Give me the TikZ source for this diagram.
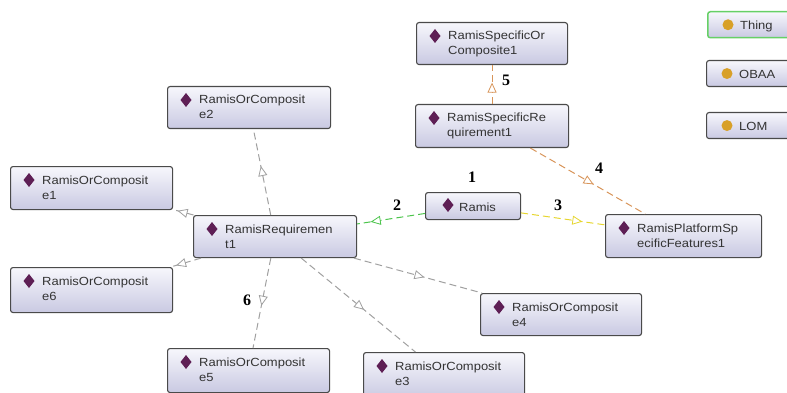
\documentclass[tikz,border=0pt]{standalone}
\usepackage{fontspec}
\setmainfont{Liberation Sans}
\newfontfamily\ogfont[FakeStretch=1.1]{Liberation Sans}
\newfontfamily\numfont{Liberation Serif}
\usetikzlibrary{arrows.meta,decorations.markings,calc}
\definecolor{boxtop}{HTML}{F7F7FC}
\definecolor{boxbot}{HTML}{C9C9E2}
\definecolor{boxline}{HTML}{4A4A4A}
\definecolor{diacol}{HTML}{5E1F55}
\definecolor{dotcol}{HTML}{D8A028}
\definecolor{egray}{HTML}{A0A0A0}
\definecolor{egreen}{HTML}{4CC44C}
\definecolor{eyellow}{HTML}{E6D630}
\definecolor{eorange}{HTML}{D8955A}
\definecolor{thinggreen}{HTML}{66D066}
\newcommand{\ontent}[7]{%
 \node[ebox, minimum width=#4pt, minimum height=#5pt, anchor=north west] (#1) at (#2,#3) {};
 \fill[diacol] ($(#1.north west)+(19,7)$) -- ++(5.5,7) -- ++(-5.5,7) -- ++(-5.5,-7) -- cycle;
 \node[etext] (#1-a) at ($(#1.north west)+(32,18)$) {#6};
 \node[etext] (#1-b) at ($(#1.north west)+(32,33)$) {#7};
}
\newcommand{\ontleg}[6]{%
 \node[ebox, draw=#5, line width=#6, minimum width=95pt, minimum height=26pt, anchor=north west] (#1) at (#2,#3) {};
 \fill[dotcol] ($(#1.west)+(21,0)$) circle (5.5pt);
 \node[etext] (#1-a) at ($(#1.west)+(33,4.5)$) {#4};
}
\begin{document}
\begin{tikzpicture}[x=1pt,y=-1pt,
  ebox/.style={draw=boxline, line width=1.1pt, rounded corners=2.5pt, top color=boxtop, bottom color=boxbot, inner sep=0pt},
  etext/.style={font=\ogfont\fontsize{11.8}{14}\selectfont, text=black!80, inner sep=0pt, anchor=base west},
  lab/.style={font=\numfont\bfseries\fontsize{16}{16}\selectfont, inner sep=0pt},
  conn/.style={dash pattern=on 7pt off 4pt, line width=1pt},
  tri/.style={postaction={decorate, decoration={markings, mark=at position #1 with {\arrow{Triangle[width=9pt,length=10pt,fill=white,line width=0.8pt]}}}}}]
\useasboundingbox (0,0) rectangle (787,393);
\clip (0,0) rectangle (787,393);

\ontent{soc1}{416}{22}{151}{42}{RamisSpecificOr}{Composite1}
\ontent{sr1}{415}{104}{153}{43}{RamisSpecificRe}{quirement1}
\ontent{e2}{167}{86}{163}{42}{RamisOrComposit}{e2}
\ontent{e1}{10}{166}{162}{43}{RamisOrComposit}{e1}
\ontent{e6}{10}{267}{162}{45}{RamisOrComposit}{e6}
\ontent{rr1}{193}{215}{163}{42}{RamisRequiremen}{t1}
\ontent{psf1}{605}{214}{156}{43}{RamisPlatformSp}{ecificFeatures1}
\ontent{e4}{480}{293}{161}{42}{RamisOrComposit}{e4}
\ontent{e5}{167}{348}{162}{44}{RamisOrComposit}{e5}
\ontent{e3}{363}{352}{161}{46}{RamisOrComposit}{e3}

\node[ebox, minimum width=95pt, minimum height=27pt, anchor=north west] (ramis) at (425,192) {};
\fill[diacol] ($(ramis.north west)+(23,6)$) -- ++(5.5,7) -- ++(-5.5,7) -- ++(-5.5,-7) -- cycle;
\node[etext] (ramis-a) at ($(ramis.north west)+(34,19)$) {Ramis};

\ontleg{thing}{707}{11}{Thing}{thinggreen}{1.5pt}
\ontleg{obaa}{706}{60}{OBAA}{boxline}{1.1pt}
\ontleg{lom}{706}{112}{LOM}{boxline}{1.1pt}

\draw[conn, egreen, tri=0.8] (ramis) -- (rr1);
\draw[conn, eyellow, tri=0.73] (ramis) -- (psf1);
\draw[conn, eorange, tri=0.55] (sr1) -- (psf1);
\draw[conn, eorange, tri=0.55] (sr1) -- (soc1);
\draw[conn, egray, tri=0.57] (rr1) -- (e2);
\draw[conn, egray, tri=0.78] (rr1) -- (e1);
\draw[conn, egray, tri=0.82] (rr1) -- (e6);
\draw[conn, egray, tri=0.55] (rr1) -- (e4);
\draw[conn, egray, tri=0.55] (rr1) -- (e3);
\draw[conn, egray, tri=0.53] (rr1) -- (e5);

\node[lab] (l1) at (472,177) {1};
\node[lab] (l2) at (397,205) {2};
\node[lab] (l3) at (558,205) {3};
\node[lab] (l4) at (599,168) {4};
\node[lab] (l5) at (506,80) {5};
\node[lab] (l6) at (247,300) {6};
\end{tikzpicture}
\end{document}
